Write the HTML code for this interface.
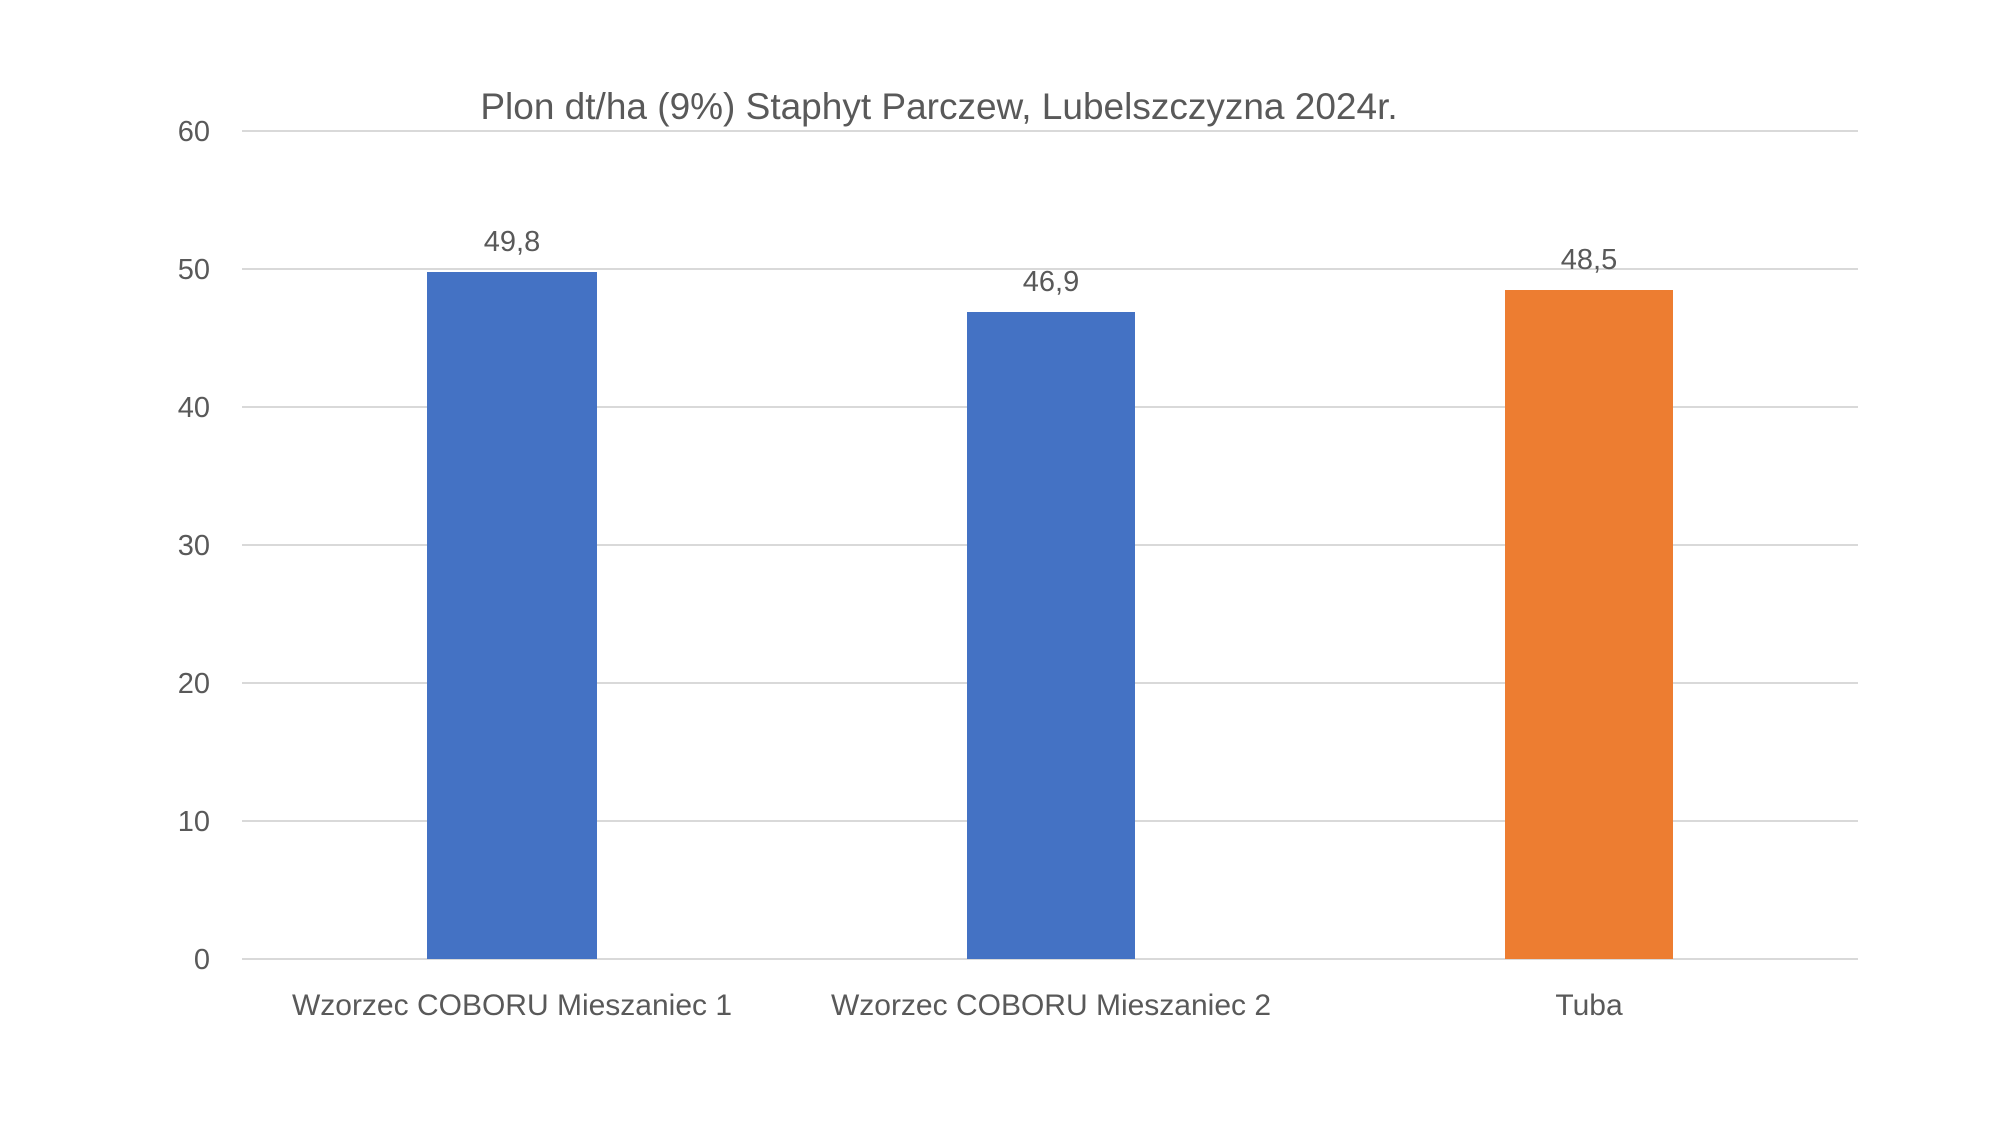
<!DOCTYPE html>
<html><head><meta charset="utf-8"><style>
html,body{margin:0;padding:0;background:#fff;}
svg{display:block;}
text{font-family:"Liberation Sans",sans-serif;fill:#595959;}
</style></head><body>
<svg width="2000" height="1125" viewBox="0 0 2000 1125">
<rect width="2000" height="1125" fill="#fff"/>
<text x="939" y="119" font-size="37" text-anchor="middle">Plon dt/ha (9%) Staphyt Parczew, Lubelszczyzna 2024r.</text>
<g stroke="#D9D9D9" stroke-width="2">
<line x1="242" x2="1858" y1="131" y2="131"/>
<line x1="242" x2="1858" y1="269" y2="269"/>
<line x1="242" x2="1858" y1="407" y2="407"/>
<line x1="242" x2="1858" y1="545" y2="545"/>
<line x1="242" x2="1858" y1="683" y2="683"/>
<line x1="242" x2="1858" y1="821" y2="821"/>
<line x1="242" x2="1858" y1="959" y2="959"/>
</g>
<g font-size="29" text-anchor="end">
<text x="210" y="141">60</text>
<text x="210" y="279">50</text>
<text x="210" y="417">40</text>
<text x="210" y="555">30</text>
<text x="210" y="693">20</text>
<text x="210" y="831">10</text>
<text x="210" y="969">0</text>
</g>
<rect x="427" y="272" width="170" height="687" fill="#4472C4"/>
<rect x="967" y="312" width="168" height="647" fill="#4472C4"/>
<rect x="1505" y="290" width="168" height="669" fill="#ED7D31"/>
<g font-size="29" text-anchor="middle">
<text x="512" y="251">49,8</text>
<text x="1051" y="291">46,9</text>
<text x="1589" y="269">48,5</text>
</g>
<g font-size="30" text-anchor="middle">
<text x="512" y="1015">Wzorzec COBORU Mieszaniec 1</text>
<text x="1051" y="1015">Wzorzec COBORU Mieszaniec 2</text>
<text x="1589" y="1015">Tuba</text>
</g>
</svg>
</body></html>
